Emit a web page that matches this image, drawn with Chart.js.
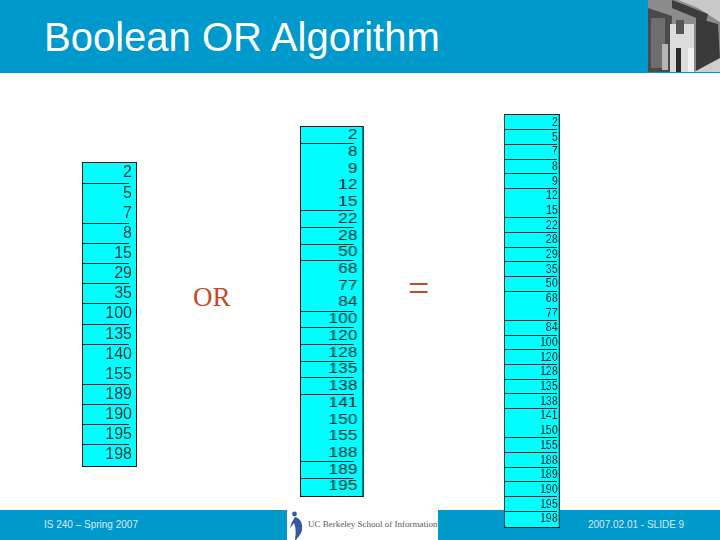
<!DOCTYPE html>
<html><head><meta charset="utf-8">
<script src="https://cdn.jsdelivr.net/npm/chart.js@4"></script>
<style>
html,body{margin:0;padding:0;background:#fff;width:720px;height:540px;overflow:hidden}
.abs{position:absolute;white-space:nowrap}
.sans{font-family:"Liberation Sans",Arial,sans-serif}
.serif{font-family:"Liberation Serif","Times New Roman",serif}
.foot{font-size:10px;line-height:10px;color:#d8e8f0;top:520px}
.tbl{position:absolute;box-sizing:border-box;border:1.5px solid #0c1c22;background:#0ff;transform-origin:0 0}
.tbl canvas{display:block}
</style></head><body>
<div class="abs" style="left:0;top:0;width:720px;height:73px;background:#0099cc"></div>
<div class="abs sans" style="left:44px;top:17px;font-size:40px;line-height:40px;color:#fff">Boolean OR Algorithm</div>
<svg class="abs" style="left:648px;top:0" width="72" height="72" viewBox="0 0 72 72">
<rect width="72" height="72" fill="#8c8c8c"/>
<polygon points="30,0 72,0 72,22 50,8" fill="#c9c9c9"/>
<polygon points="0,8 24,16 22,72 0,72" fill="#4a4a4a"/>
<polygon points="24,0 60,14 58,22 24,8" fill="#3c3c3c"/>
<rect x="3" y="18" width="14" height="50" fill="#6e6e6e"/>
<rect x="22" y="24" width="24" height="48" fill="#dcdcdc"/>
<rect x="28" y="20" width="8" height="14" fill="#555"/>
<rect x="28" y="48" width="5" height="24" fill="#2c2c2c"/>
<rect x="40" y="48" width="6" height="24" fill="#f2f2f2"/>
<polygon points="48,18 70,24 72,60 48,72" fill="#3a3a3a"/>
<polygon points="46,72 72,58 72,72" fill="#cfcfcf"/>
<rect x="14" y="44" width="6" height="26" fill="#b5b5b5"/>
</svg>
<div class="abs" style="left:0;top:510px;width:720px;height:30px;background:#0099cc"></div>
<div class="abs" style="left:287px;top:510px;width:151px;height:30px;background:#fff"></div>
<svg class="abs" style="left:288px;top:510px" width="18" height="30" viewBox="0 0 18 30">
<circle cx="6.5" cy="4" r="2.4" fill="#35599f"/>
<path d="M7 7 C12 8 15 13 14 20 C13 25 9 28 8 30 L7 30 C8 23 8 18 6 13 L2 18 C3 13 5 10 7 7Z" fill="#35599f"/>
</svg>
<div class="abs serif" style="left:308px;top:519px;font-size:9px;line-height:10px;color:#5a5a5a">UC Berkeley School of Information</div>
<div class="abs sans foot" style="left:44px">IS 240 – Spring 2007</div>
<div class="abs sans foot" style="left:588px">2007.02.01 - SLIDE 9</div>
<div class="abs serif" style="left:193px;top:284px;font-size:27px;line-height:27px;color:#c24a2c">OR</div>
<div class="abs serif" style="left:408px;top:269px;font-size:38px;line-height:38px;color:#c24a2c">=</div>
<div id="t1" class="tbl"><canvas></canvas></div>
<div id="t2" class="tbl"><canvas></canvas></div>
<div id="t3" class="tbl"><canvas></canvas></div>
<script>
const listA = [2,5,7,8,15,29,35,100,135,140,155,189,190,195,198];
const listB = [2,8,9,12,15,22,28,50,68,77,84,100,120,128,135,138,141,150,155,188,189,195];
const listOr = [2,5,7,8,9,12,15,22,28,29,35,50,68,77,84,100,120,128,135,138,141,150,155,188,189,190,195,198];
// rows whose lower rule is missing in the picture
const openA = [5,140];
const openB = [8,9,12,68,77,141,150,155];
const openOr = [12,68,141];

const panels = [
 {id:'t1',list:listA,open:openA,x:82,y:162,w:55,h:305,sx:1,font:16,inset:3,color:'#2c3a3c'},
 {id:'t2',list:listB,open:openB,x:300,y:126,w:64,h:371,sx:1.25,font:14,inset:3,color:'#16282a'},
 {id:'t3',list:listOr,open:openOr,x:504,y:114,w:56,h:414,sx:0.8,font:13,inset:1,color:'#1f3335'}
];
panels.forEach(p=>{
  const box=document.getElementById(p.id);
  const W=Math.round(p.w/p.sx);
  Object.assign(box.style,{left:p.x+'px',top:p.y+'px',width:W+'px',height:p.h+'px',transform:`scaleX(${p.sx})`});
  const cv=box.querySelector('canvas');
  const iw=W-3, ih=p.h-3;
  cv.width=iw;cv.height=ih;cv.style.width=iw+'px';cv.style.height=ih+'px';
  new Chart(cv,{
    type:'bar',
    data:{labels:p.list.map(String),datasets:[{data:p.list.map(()=>1),backgroundColor:'#00ffff',borderWidth:0,barPercentage:1,categoryPercentage:1}]},
    options:{
      indexAxis:'y',responsive:false,animation:false,devicePixelRatio:1,
      layout:{padding:0},
      plugins:{legend:{display:false},title:{display:false},tooltip:{enabled:false}},
      scales:{
        x:{display:false,min:0,max:1},
        y:{position:'right',offset:true,
           afterFit:s=>{s.paddingTop=0;s.paddingBottom=0;},
           border:{display:false},
           grid:{z:1,drawTicks:false,tickLength:0,lineWidth:1,
             color:c=>{
               if(c.index===undefined||c.index===0) return 'rgba(0,0,0,0)';
               return p.open.includes(p.list[c.index-1])?'rgba(0,0,0,0)':'#10262a';
             }},
           ticks:{z:2,mirror:true,padding:p.inset,autoSkip:false,color:p.color,font:{family:'"Liberation Sans",Arial,sans-serif',size:p.font}}
        }
      }
    }
  });
});
</script>
</body></html>
